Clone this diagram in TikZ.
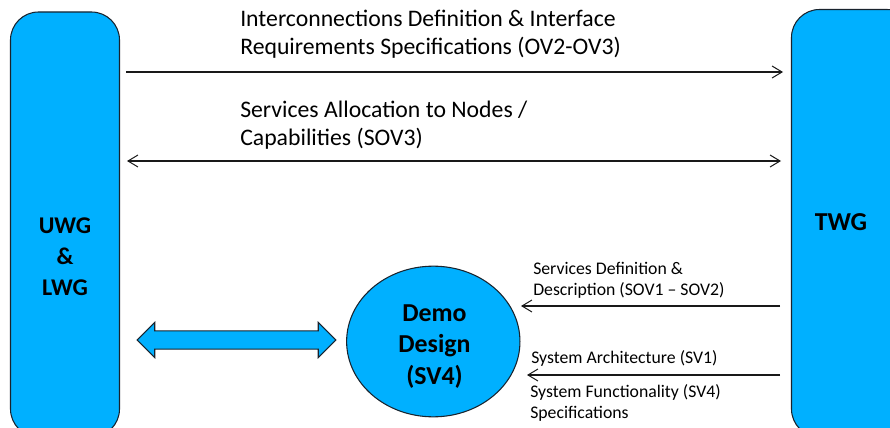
\documentclass[tikz,border=0pt]{standalone}
\usepackage{fontspec}
\setmainfont{Carlito}
\usetikzlibrary{shapes.geometric,shapes.arrows,arrows.meta}
\definecolor{fillblue}{RGB}{0,176,255}
\definecolor{linegray}{RGB}{25,35,45}
\tikzset{
  x=0.75pt,y=-0.75pt,
  barb/.tip={Straight Barb[length=7.5pt,width=9pt,line width=0.75pt]},
  groupbox/.style={draw=linegray,fill=fillblue,line width=0.8pt,rounded corners=21pt},
  big/.style={font=\fontsize{17.8pt}{21.2pt}\selectfont,anchor=west,align=left,inner sep=0pt},
  small/.style={font=\fontsize{13.3pt}{15.7pt}\selectfont,anchor=west,align=left,inner sep=0pt},
  head/.style={font=\fontsize{19.4pt}{23.4pt}\selectfont\bfseries,align=center,inner sep=0pt},
  conn/.style={line width=0.9pt,draw=black!90}
}
\begin{document}
\begin{tikzpicture}
\useasboundingbox (0,0) rectangle (890,428);
\clip (0,0) rectangle (890,428);
\draw[groupbox] (10.5,12) rectangle (119.5,437);
\draw[groupbox] (791.5,9.5) rectangle (915,437);
\coordinate (a1) at (126,72);
\coordinate (b1) at (783,72);
\coordinate (a2) at (127,161);
\coordinate (b2) at (781,161);
\coordinate (c1) at (780,306);
\coordinate (c2) at (521,306);
\coordinate (d1) at (780,375);
\coordinate (d2) at (527,375);
\node[head,font=\fontsize{18pt}{23.4pt}\selectfont\bfseries] (uwg) at (65,256.5) {UWG\\\&\\LWG};
\node[head] (twg) at (841,222) {TWG};
\node[ellipse,draw=linegray,fill=fillblue,line width=0.8pt,minimum width=130pt,minimum height=113pt,inner sep=0pt] (demo) at (433.3,341.5) {};
\node[head] (demotext) at (434.5,346.5) {Demo\\Design\\(SV4)};
\node[double arrow,draw=linegray,fill=fillblue,line width=0.8pt,minimum height=149pt,minimum width=25.5pt,double arrow head extend=6.4pt,double arrow tip angle=90,inner sep=6.4pt] (link) at (236.5,340) {};
\draw[conn,-barb] (a1) -- (b1);
\draw[conn,barb-barb] (a2) -- (b2);
\draw[conn,-barb] (c1) -- (c2);
\draw[conn,-barb] (d1) -- (d2);
\node[big] (t1) at (240,34) {Interconnections Definition \& Interface\\Requirements Specifications (OV2-OV3)};
\node[big] (t2) at (240,125.5) {Services Allocation to Nodes /\\Capabilities (SOV3)};
\node[small] (t3) at (533,280) {Services Definition \&\\Description (SOV1 – SOV2)};
\node[small] (t4) at (531,358) {System Architecture (SV1)};
\node[small] (t5) at (530,403) {System Functionality (SV4)\\Specifications};
\end{tikzpicture}
\end{document}
